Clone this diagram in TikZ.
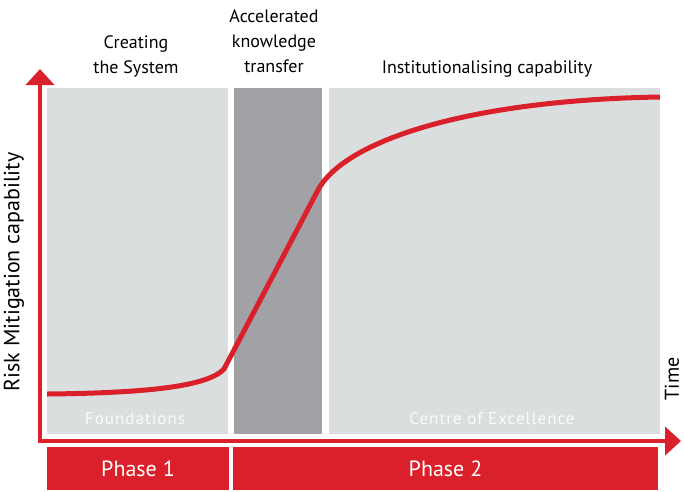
\documentclass[tikz,border=0pt]{standalone}
\usepackage{fontspec}
\setmainfont{PT Sans}
\usetikzlibrary{arrows.meta,positioning}
\definecolor{riskred}{RGB}{218,32,42}
\definecolor{panelgrey}{RGB}{218,222,223}
\definecolor{transfergrey}{RGB}{162,161,166}
\definecolor{faintwhite}{RGB}{250,251,251}

\begin{document}
\begin{tikzpicture}[x=1pt, y=-1pt,
    axis/.style={draw=riskred, line width=4pt, -{Triangle[length=16pt,width=28pt]}},
    panel/.style={rectangle, inner sep=0pt, minimum height=346pt},
    phasebar/.style={rectangle, fill=riskred, text=white, inner sep=0pt, minimum height=43pt, font=\fontsize{22}{26}\selectfont},
    toplabel/.style={align=center, anchor=base, font=\fontsize{18}{25}\selectfont},
    panellabel/.style={anchor=base, text=faintwhite, font=\fontsize{17}{20}\selectfont\addfontfeature{LetterSpace=6}},
    axislabel/.style={rotate=90, font=\fontsize{22}{26}\selectfont}]
    \useasboundingbox (0,0) rectangle (684,491);

    % grey panels
    \node[panel, fill=panelgrey, minimum width=181pt] (foundations) at (137.5,261) {};
    \node[panel, fill=transfergrey, minimum width=88pt] (transfer) at (278,261) {};
    \node[panel, fill=panelgrey, minimum width=331pt] (excellence) at (494.5,261) {};

    % labels over the panels (base = last line)
    \node[toplabel] (creating) at (136,73) {Creating\\the System};
    \node[toplabel] (accelerated) at (274,72) {Accelerated\\knowledge\\transfer};
    \node[toplabel] (institutional) at (487,73) {Institutionalising capability};

    \node[panellabel] (foundlabel) at (135,424) {Foundations};
    \node[panellabel] (excellabel) at (492,424) {Centre of Excellence};

    % phases
    \node[phasebar, minimum width=182pt] (phaseone) at (138,468.5) {Phase 1};
    \node[phasebar, minimum width=425pt] (phasetwo) at (445.5,468.5) {Phase 2};

    % axes
    \coordinate (origin) at (40,441);
    \coordinate (ytip) at (40,69);
    \coordinate (xtip) at (681,441);
    \draw[axis] ([yshift=-2pt]origin) -- (ytip);
    \draw[axis] (origin) -- (xtip);
    \node[axislabel] (riskaxis) at (14,272) {Risk Mitigation capability};
    \node[axislabel, font=\fontsize{20}{24}\selectfont] (timeaxis) at (672,379) {Time};

    % capability curve
    \draw[riskred, line width=5pt, line join=round]
        (47,394) .. controls (150,393) and (208,386) .. (224,369)
        -- (318,190)
        .. controls (345,140) and (470,100) .. (660,97);
\end{tikzpicture}
\end{document}
